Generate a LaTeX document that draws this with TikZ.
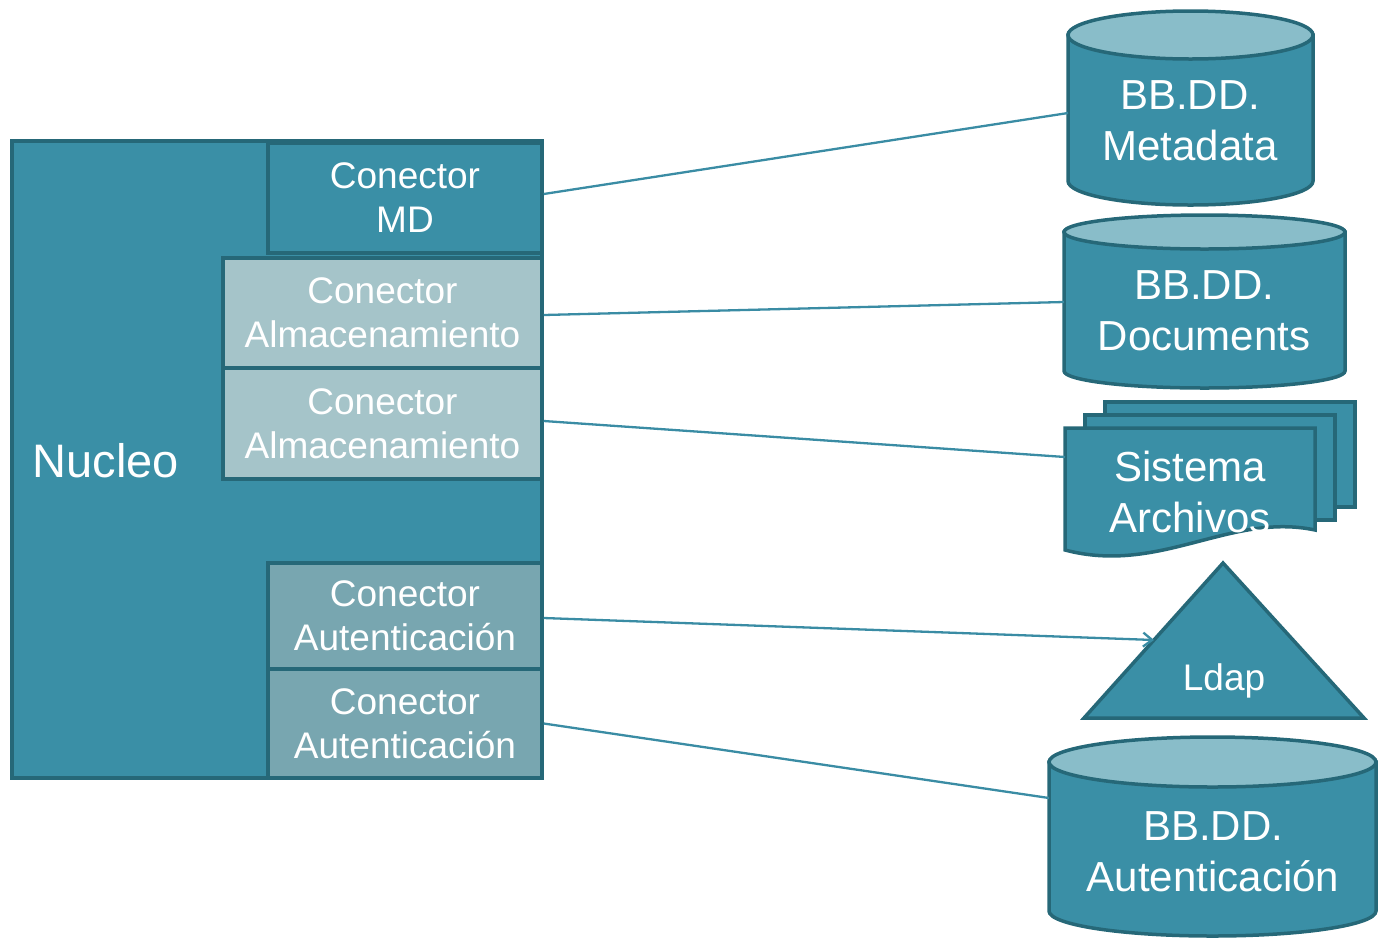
\documentclass[tikz,border=0pt]{standalone}
\usepackage{fontspec}
\setmainfont{Liberation Sans}
\usetikzlibrary{arrows.meta}
\definecolor{tfill}{HTML}{3A8FA6}
\definecolor{tborder}{HTML}{266878}
\definecolor{tlight}{HTML}{A5C4C9}
\definecolor{taut}{HTML}{78A6B0}
\definecolor{ttop}{HTML}{89BDC9}
\definecolor{tline}{HTML}{3A8CA4}
\begin{document}
\begin{tikzpicture}[x=1pt,y=-1pt,
  shapeline/.style={draw=tborder, line width=3.5pt, line join=miter},
  box/.style={shapeline, rectangle, inner sep=0pt, align=center, text=white, font=\fontsize{37}{44}\selectfont},
  bigtxt/.style={text=white, align=center, font=\fontsize{42}{51}\selectfont, inner sep=0pt},
  midtxt/.style={text=white, align=center, font=\fontsize{37}{44}\selectfont, inner sep=0pt},
  link/.style={draw=tline, line width=2.3pt},
]
\useasboundingbox (0,0) rectangle (1378,938);

% Nucleo panel
\node[shapeline, fill=tfill, minimum width=530pt, minimum height=637pt, inner sep=0pt] (nucleo) at (277,459.5) {};
\node[text=white, font=\fontsize{47}{56}\selectfont, inner sep=0pt] (nucleotxt) at (106,461) {Nucleo};

% connector boxes
\node[box, fill=tfill, minimum width=274pt, minimum height=110pt] (md) at (405,198) {\rule{0pt}{0pt}\raisebox{-2pt}{Conector}\\\raisebox{-2pt}{MD}};
\node[box, fill=tlight, minimum width=319pt, minimum height=110pt] (alm1) at (382.5,313) {\raisebox{-2pt}{Conector}\\\raisebox{-2pt}{Almacenamiento}};
\node[box, fill=tlight, minimum width=319pt, minimum height=111pt] (alm2) at (382.5,423.5) {\raisebox{-2pt}{Conector}\\\raisebox{-2pt}{Almacenamiento}};
\node[box, fill=taut, minimum width=274pt, minimum height=106pt] (aut1) at (405,616) {\raisebox{-3pt}{Conector}\\\raisebox{-3pt}{Autenticación}};
\node[box, fill=taut, minimum width=274pt, minimum height=109pt] (aut2) at (405,723.5) {\raisebox{-2pt}{Conector}\\\raisebox{-2pt}{Autenticación}};

% cylinder 1
\filldraw[shapeline, fill=tfill] (1068,35) -- (1068,181) arc[start angle=180, end angle=0, x radius=122.5, y radius=24] -- (1313,35) -- cycle;
\filldraw[shapeline, fill=ttop] (1190.5,35) ellipse [x radius=122.5, y radius=24];
% cylinder 2
\filldraw[shapeline, fill=tfill] (1064,232) -- (1064,371) arc[start angle=180, end angle=0, x radius=140.5, y radius=17] -- (1345,232) -- cycle;
\filldraw[shapeline, fill=ttop] (1204.5,232) ellipse [x radius=140.5, y radius=17];
% cylinder 3
\filldraw[shapeline, fill=tfill] (1049,762) -- (1049,911) arc[start angle=180, end angle=0, x radius=163.5, y radius=25] -- (1376,762) -- cycle;
\filldraw[shapeline, fill=ttop] (1212.5,762) ellipse [x radius=163.5, y radius=25];

% multidocument
\filldraw[shapeline, fill=tfill] (1105,402) rectangle (1355,507);
\filldraw[shapeline, fill=tfill] (1085,415) rectangle (1335,520);
\filldraw[shapeline, fill=tfill] (1065,428) -- (1315,428) -- (1315,530) .. controls (1230,512) and (1160,575) .. (1065,550) -- cycle;

% triangle
\filldraw[shapeline, fill=tfill] (1223,563) -- (1364,718) -- (1084,718) -- cycle;

% texts on the right
\node[bigtxt] (meta) at (1190,121) {BB.DD.\\Metadata};
\node[bigtxt] (docs) at (1204,311) {BB.DD.\\Documents};
\node[bigtxt] (sist) at (1190,492) {Sistema\\Archivos};
\node[midtxt] (ldap) at (1224,681) {Ldap};
\node[bigtxt] (auth) at (1213,852) {BB.DD.\\Autenticación};

% connection points
\coordinate (meta-in) at (1068,113);
\coordinate (docs-in) at (1064,302);
\coordinate (sist-in) at (1065,457);
\coordinate (ldap-in) at (1154,640);
\coordinate (auth-in) at (1049,798);

% connectors
\draw[link] ([yshift=4pt]md.east) -- (meta-in);
\draw[link] ([yshift=-2pt]alm1.east) -- (docs-in);
\draw[link] ([yshift=2.5pt]alm2.east) -- (sist-in);
\draw[link, -{Straight Barb[length=9pt,width=14pt]}] ([yshift=-2pt]aut1.east) -- (ldap-in);
\draw[link] (aut2.east) -- (auth-in);
\end{tikzpicture}
\end{document}
